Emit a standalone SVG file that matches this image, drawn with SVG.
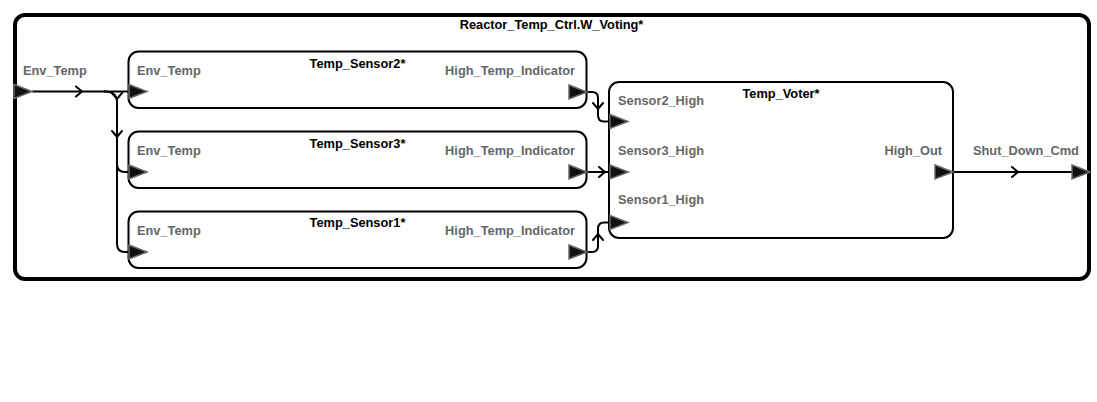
<svg xmlns="http://www.w3.org/2000/svg" width="1097" height="402" viewBox="0 0 1097 402">
<defs>
<style>
.frame{fill:#fff;stroke:#000;stroke-width:4}
.box{fill:#fff;stroke:#000;stroke-width:2}
.port{fill:#111;stroke:#6a6a6a;stroke-width:1.5;stroke-linejoin:miter}
.wire{fill:none;stroke:#000;stroke-width:2}
.chev{fill:none;stroke:#000;stroke-width:2;stroke-linecap:round;stroke-linejoin:miter}
.title{font-family:"Liberation Sans",Arial,sans-serif;font-weight:bold;font-size:12.8px;fill:#000}
.plabel{font-family:"Liberation Sans",Arial,sans-serif;font-weight:bold;font-size:12.8px;fill:#666}
.c{text-anchor:middle}
.e{text-anchor:end}
</style>
<polygon id="pt" class="port" points="0,-7 18,0 0,7"/>
<path id="chR" class="chev" d="M-4,-5 L2,0 L-4,5"/>
<path id="chD" class="chev" d="M-5,-4 L0,2 L5,-4"/>
<path id="chU" class="chev" d="M-5,4 L0,-2 L5,4"/>
</defs>
<rect width="1097" height="402" fill="#fff"/>

<g id="Reactor_Temp_Ctrl">
<rect class="frame" x="15" y="15" width="1074" height="264" rx="10"/>
<text class="title c" x="551.5" y="29">Reactor_Temp_Ctrl.W_Voting*</text>
<text class="plabel" x="23" y="75">Env_Temp</text>
<text class="plabel" x="973" y="155">Shut_Down_Cmd</text>
</g>

<g id="Temp_Sensor2">
<rect class="box" x="128.5" y="51.5" width="458" height="56.5" rx="10"/>
<text class="title c" x="357.5" y="68">Temp_Sensor2*</text>
<text class="plabel" x="137" y="75">Env_Temp</text>
<text class="plabel e" x="575" y="75">High_Temp_Indicator</text>
</g>

<g id="Temp_Sensor3">
<rect class="box" x="128.5" y="131.5" width="458" height="56.5" rx="10"/>
<text class="title c" x="357.5" y="148">Temp_Sensor3*</text>
<text class="plabel" x="137" y="155">Env_Temp</text>
<text class="plabel e" x="575" y="155">High_Temp_Indicator</text>
</g>

<g id="Temp_Sensor1">
<rect class="box" x="128.5" y="211.5" width="458" height="56.5" rx="10"/>
<text class="title c" x="357.5" y="227">Temp_Sensor1*</text>
<text class="plabel" x="137" y="235">Env_Temp</text>
<text class="plabel e" x="575" y="235">High_Temp_Indicator</text>
</g>

<g id="Temp_Voter">
<rect class="box" x="609" y="82" width="344" height="156" rx="10"/>
<text class="title c" x="781" y="98">Temp_Voter*</text>
<text class="plabel" x="618" y="105">Sensor2_High</text>
<text class="plabel" x="618" y="155">Sensor3_High</text>
<text class="plabel" x="618" y="204">Sensor1_High</text>
<text class="plabel e" x="942" y="155">High_Out</text>
</g>

<g id="connectors">
<path class="wire" d="M32,91.5 H130"/>
<path class="wire" d="M104,91.5 Q117,91.5 117,102 V164 Q117,172 125,172 H130"/>
<path class="wire" d="M117,160 V244 Q117,252 125,252 H130"/>
<path class="wire" d="M587,92 H592 Q598,92 598,98 V115 Q598,121.5 604,121.5 H611"/>
<path class="wire" d="M587,172 H611"/>
<path class="wire" d="M587,252 H592 Q598,252 598,246 V229 Q598,222.5 604,222.5 H611"/>
<path class="wire" d="M953,172 H1073"/>
<use href="#chR" x="80" y="91.5"/>
<use href="#chD" x="117" y="97"/>
<use href="#chD" x="117" y="135"/>
<use href="#chD" x="598" y="107"/>
<use href="#chR" x="603" y="172"/>
<use href="#chU" x="598" y="236"/>
<use href="#chR" x="1016" y="172"/>
</g>

<g id="ports">
<use href="#pt" x="14" y="91.5"/>
<use href="#pt" x="129" y="91.5"/>
<use href="#pt" x="129" y="172"/>
<use href="#pt" x="129" y="252"/>
<use href="#pt" x="569" y="92"/>
<use href="#pt" x="569" y="172"/>
<use href="#pt" x="569" y="252"/>
<use href="#pt" x="610" y="121.5"/>
<use href="#pt" x="610" y="172"/>
<use href="#pt" x="610" y="222.5"/>
<use href="#pt" x="935" y="172"/>
<use href="#pt" x="1072" y="172"/>
</g>
</svg>
